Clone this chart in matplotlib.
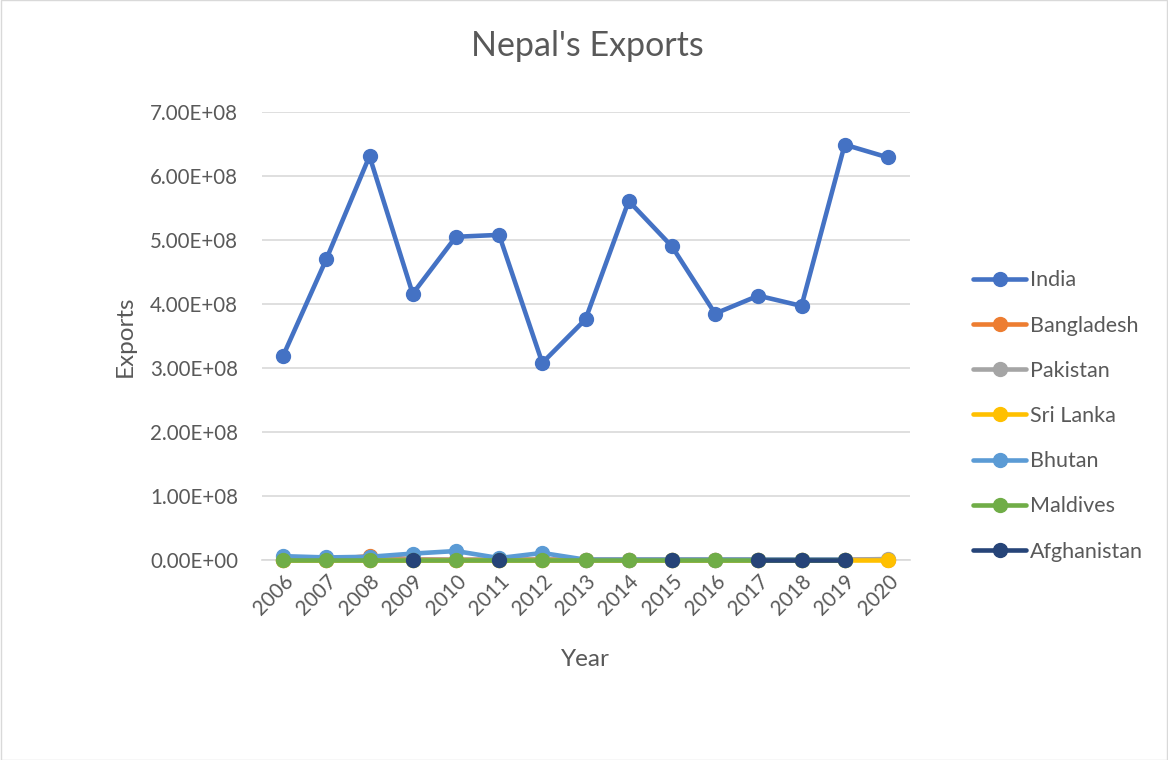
import numpy as np
import matplotlib
matplotlib.use("Agg")
import matplotlib.pyplot as plt

nan = np.nan

# data
years = [str(y) for y in range(2006, 2021)]
india = [3.19e8, 4.70e8, 6.31e8, 4.16e8, 5.05e8, 5.08e8, 3.08e8, 3.76e8,
         5.61e8, 4.90e8, 3.85e8, 4.13e8, 3.97e8, 6.49e8, 6.29e8]
bangladesh = [5e5, 5e5, 6e6, 1e6, 5e5, 5e5, 1e6, 5e5, 5e5, 5e5, 5e5, 5e5, 5e5, 5e5, 5e5]
pakistan = [5e5, 5e5, 5e5, 5e5, 5e5, 5e5, 5e5, 5e5, 5e5, 5e5, 5e5, 5e5, 5e5, 5e5, 1.5e6]
sri_lanka = [5e5, 5e5, 5e5, 5e5, 5e5, 5e5, 5e5, 5e5, 5e5, 5e5, 5e5, 5e5, 5e5, 5e5, 5e5]
bhutan = [6e6, 4e6, 5e6, 1.0e7, 1.4e7, 3e6, 1.1e7, 5e5, 5e5, 5e5, 5e5, 5e5, 5e5, 5e5, nan]
maldives = [5e5, 5e5, 5e5, 5e5, 5e5, 5e5, 5e5, 5e5, 5e5, 5e5, 5e5, 5e5, 5e5, 5e5, nan]
afghanistan = [nan, nan, nan, 5e5, nan, 5e5, nan, nan, nan, 5e5, nan, 5e5, 5e5, 5e5, nan]

series = [("India", india, "#4472C4"),
          ("Bangladesh", bangladesh, "#ED7D31"),
          ("Pakistan", pakistan, "#A5A5A5"),
          ("Sri Lanka", sri_lanka, "#FFC000"),
          ("Bhutan", bhutan, "#5B9BD5"),
          ("Maldives", maldives, "#70AD47"),
          ("Afghanistan", afghanistan, "#264478")]

plt.rcParams['font.family'] = ['Lato', 'DejaVu Sans']
txt = "#595959"

fig = plt.figure(figsize=(11.68, 7.6), dpi=100)
ax = fig.add_axes([261.5 / 1168, 1 - 560 / 760, (909.5 - 261.5) / 1168, (560 - 112) / 760])

x = np.arange(len(years))
for name, vals, col in series:
    ax.plot(x, vals, color=col, lw=3.3, marker="o", markersize=10, label=name,
            solid_capstyle="round", zorder=3, clip_on=False)

ax.set_xlim(-0.5, len(years) - 0.5)
ax.set_ylim(0, 7e8)
ax.set_yticks(np.arange(0, 7.01e8, 1e8))
ax.set_yticklabels(["%.2fE+%02d" % (v / 1e8, 8) if v > 0 else "0.00E+00"
                    for v in np.arange(0, 7.01e8, 1e8)])
ax.set_xticks(x)
ax.set_xticklabels(years, rotation=45, ha="right", rotation_mode="anchor")
ax.tick_params(axis="both", length=0, labelsize=14.8, colors=txt)
ax.tick_params(axis="y", pad=17)
ax.tick_params(axis="x", pad=8)
ax.grid(axis="y", color="#D9D9D9", lw=1.2, zorder=0)
for s in ["top", "right", "left"]:
    ax.spines[s].set_visible(False)
ax.spines["bottom"].set_color("#D9D9D9")
ax.spines["bottom"].set_linewidth(1.2)
ax.spines["bottom"].set_zorder(1)

ax.set_xlabel("Year", fontsize=17.5, color=txt, labelpad=22)
ax.set_ylabel("Exports", fontsize=17.5, color=txt, labelpad=10)
fig.text(587 / 1168, 1 - 46 / 760, "Nepal's Exports", fontsize=24.5, color=txt,
         ha="center", va="center")

leg = ax.legend(loc="upper left", bbox_to_anchor=(954 / 1168, 1 - 251 / 760),
                bbox_transform=fig.transFigure, frameon=False, fontsize=15.5,
                handlelength=2.45, handletextpad=0.18, labelspacing=1.17)
for t in leg.get_texts():
    t.set_color(txt)

fig.patches.append(plt.Rectangle((0.0005, 0.0005), 0.999, 0.999, transform=fig.transFigure,
                                 fill=False, edgecolor="#D9D9D9", lw=1))

fig.savefig("out.png", dpi=100)
